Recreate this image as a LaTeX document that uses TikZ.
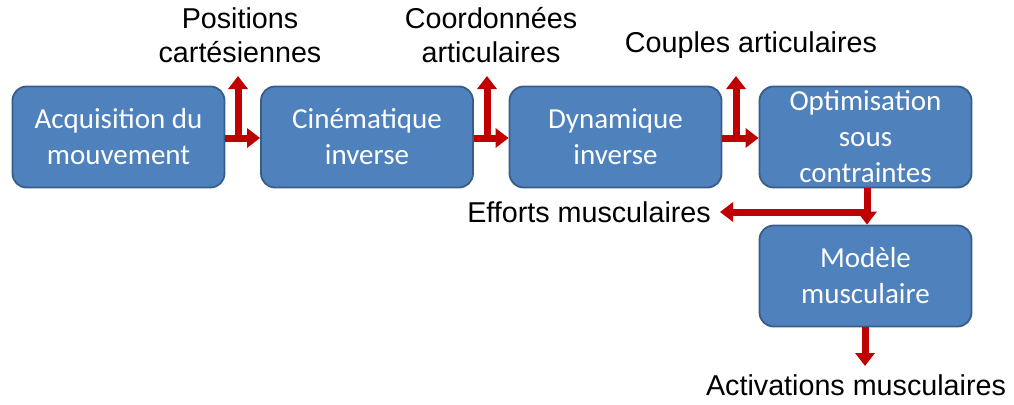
\documentclass[tikz,border=0pt]{standalone}
\usepackage{fontspec}
\setmainfont{Liberation Sans}
\newfontfamily\boxfont{Carlito}
\usetikzlibrary{arrows.meta}
\definecolor{boxfill}{HTML}{4F81BD}
\definecolor{boxline}{HTML}{385D8A}
\definecolor{arr}{HTML}{C00000}
\tikzset{
  blk/.style={draw=boxline, line width=1.8pt, fill=boxfill, rounded corners=14pt,
    minimum width=212pt, minimum height=101pt, inner sep=0pt, align=center,
    text=white, font=\boxfont\fontsize{29}{36}\selectfont},
  lbl/.style={align=center, font=\fontsize{28.7}{34}\selectfont, inner sep=0pt},
  flow/.style={draw=arr, line width=7pt, -{Triangle[width=19pt,length=13pt]}}
}
\begin{document}
\begin{tikzpicture}[x=1pt,y=-1pt]
\useasboundingbox (0,0) rectangle (1014,404);
\node[blk] (b1) at (118.5,137) {Acquisition du\\mouvement};
\node[blk] (b2) at (367,137) {Cinématique\\inverse};
\node[blk] (b3) at (615.5,137) {Dynamique\\inverse};
\node[blk] (b4) at (865.5,137) {Optimisation\\sous\\contraintes};
\node[blk] (b5) at (865.5,276) {Modèle\\musculaire};
\node[lbl] (l1) at (240,35) {Positions\\cartésiennes};
\node[lbl] (l2) at (491,35) {Coordonnées\\articulaires};
\node[lbl] (l3) at (751,45) {Couples articulaires};
\node[lbl, anchor=east] (l4) at (711,212) {Efforts musculaires};
\node[lbl] (l5) at (856,385) {Activations musculaires};
\coordinate (j1) at (238,138);
\coordinate (t1) at (238,76);
\coordinate (j2) at (487,138);
\coordinate (t2) at (487,76);
\coordinate (j3) at (736,138);
\coordinate (t3) at (736,76);
\coordinate (j4) at (867,212);
\coordinate (t4) at (720,212);
\coordinate (t5) at (865,366);
\draw[flow] (b1.east |- j1) -- (b2.west |- j1);
\draw[flow] (j1) -- (t1);
\draw[flow] (b2.east |- j2) -- (b3.west |- j2);
\draw[flow] (j2) -- (t2);
\draw[flow] (b3.east |- j3) -- (b4.west |- j3);
\draw[flow] (j3) -- (t3);
\draw[flow] (b4.south -| j4) -- (b5.north -| j4);
\draw[flow] (j4) -- (t4);
\draw[flow] (b5.south -| t5) -- (t5);
\end{tikzpicture}
\end{document}
